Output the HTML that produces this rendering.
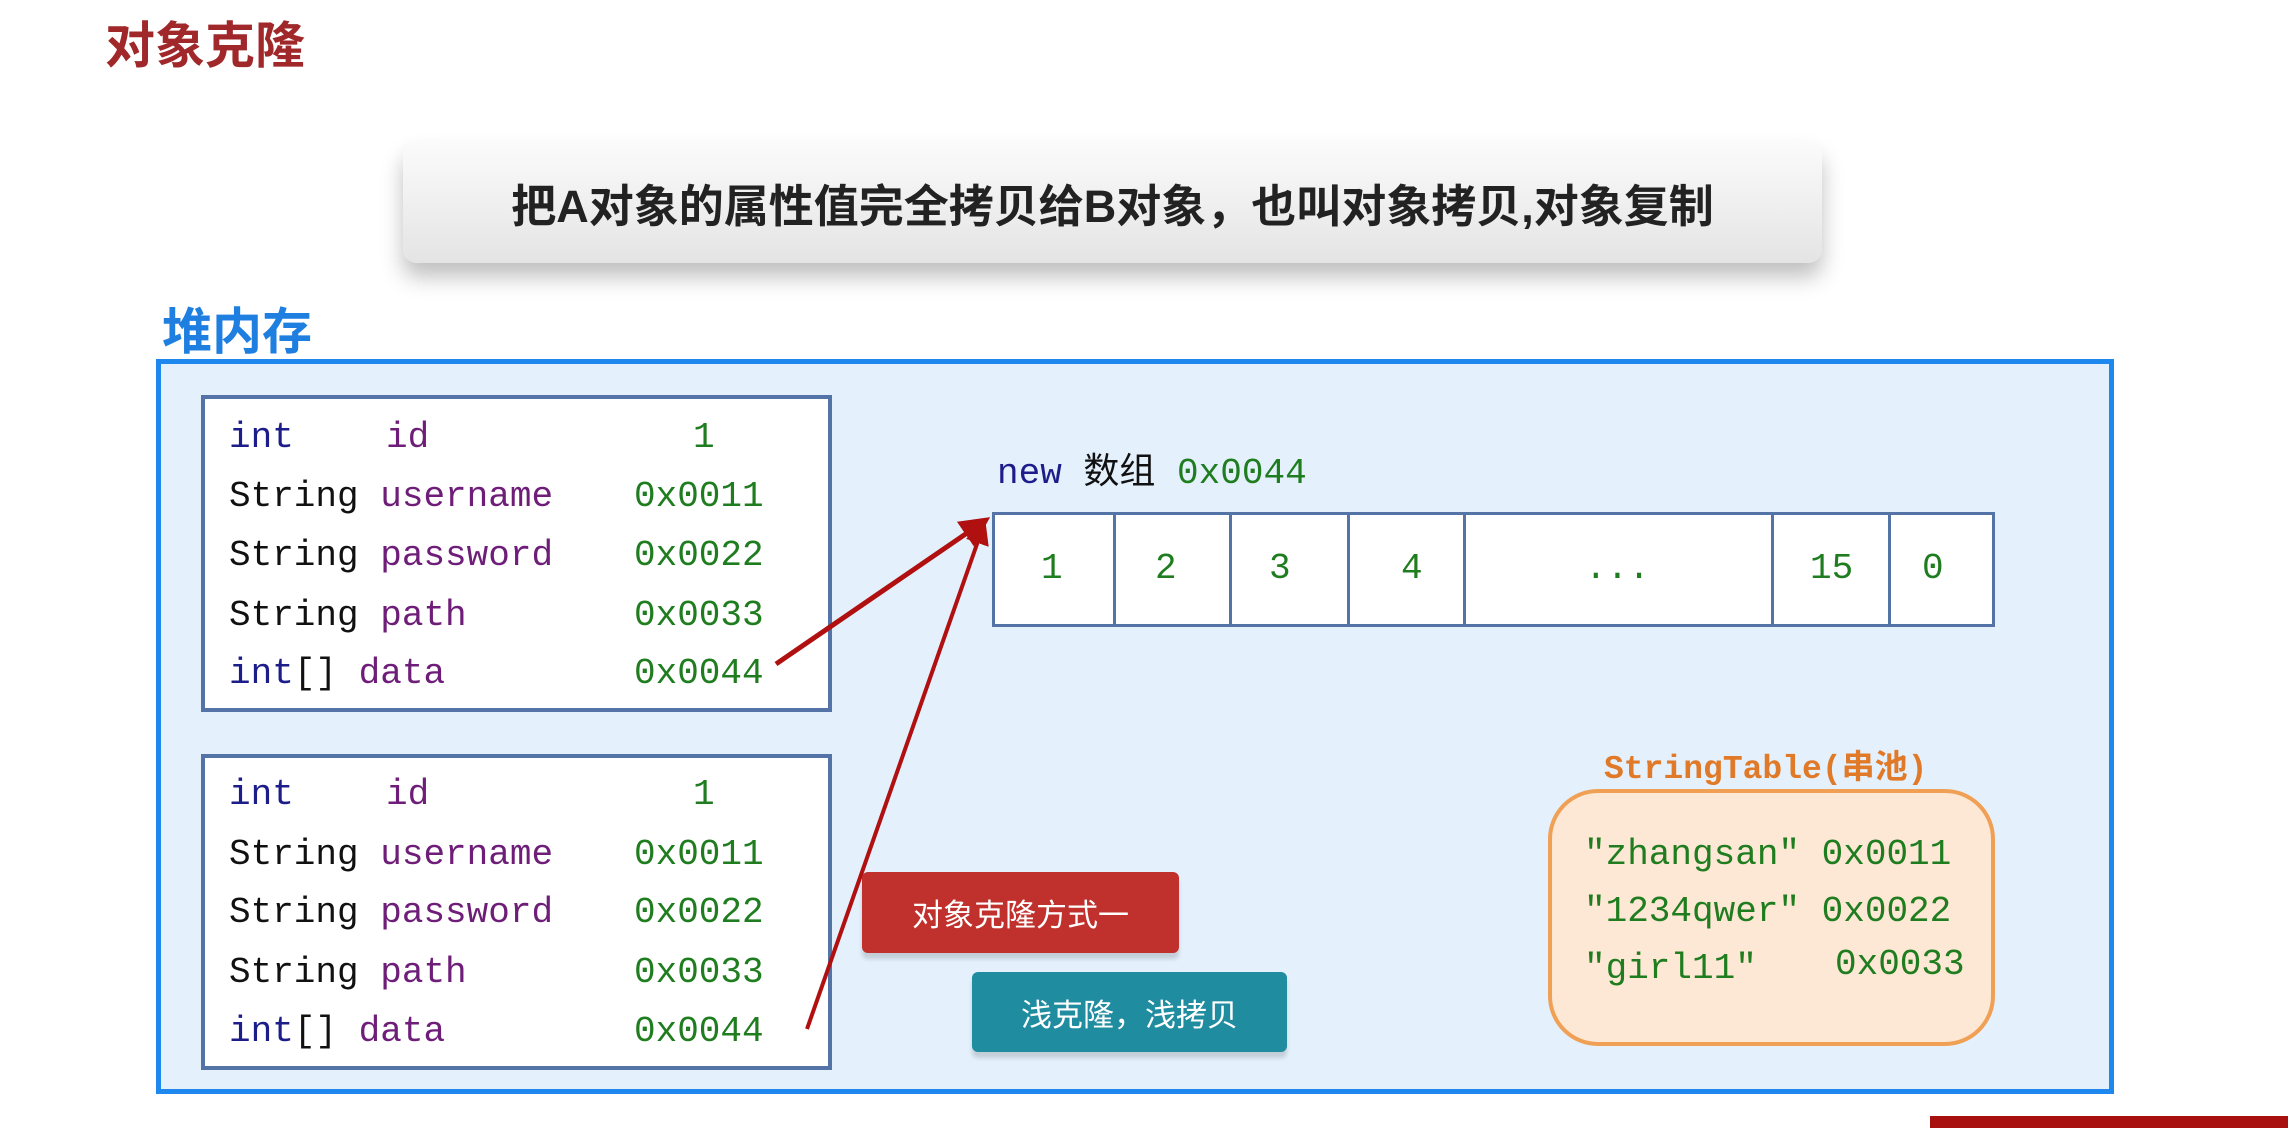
<!DOCTYPE html>
<html><head><meta charset="utf-8">
<style>
body{margin:0;width:2288px;height:1128px;background:#fff;position:relative;overflow:hidden;font-family:"Liberation Sans","Noto Sans CJK SC",sans-serif;}
.a{position:absolute;white-space:nowrap;}
.m{font-family:"Liberation Mono","Noto Sans CJK SC",monospace;font-size:36px;line-height:40px;}
.k{color:#1c1c8a}.n{color:#6e1d78}.g{color:#1f7d1f}.b{color:#111}
.box{position:absolute;border:4px solid #5474a8;background:#fff;box-sizing:border-box;}
.cell{position:absolute;top:512px;height:115px;border:3px solid #5474a8;box-sizing:border-box;background:#fff;}
.btn{position:absolute;color:#fff;font-size:31px;display:flex;align-items:center;justify-content:center;border-radius:6px;box-shadow:0 6px 4px rgba(0,0,0,0.15);}
</style></head><body>
<div class="a" style="left:105px;top:6px;font-size:50px;font-weight:bold;color:#a0282a;">对象克隆</div>
<div class="a" style="left:403px;top:142px;width:1419px;height:121px;border-radius:14px;background:linear-gradient(#fbfbfb,#e4e4e4);box-shadow:0 14px 22px rgba(0,0,0,0.25);display:flex;align-items:center;justify-content:center;font-size:45px;font-weight:bold;color:#222;">把A对象的属性值完全拷贝给B对象，也叫对象拷贝,对象复制</div>
<div class="a" style="left:162px;top:292px;font-size:50px;font-weight:bold;color:#1e7fe0;">堆内存</div>
<div class="a" style="left:156px;top:359px;width:1958px;height:735px;border:5px solid #1e88ee;background:#e4f1fd;box-sizing:border-box;"></div>

<div class="box" style="left:201px;top:395px;width:631px;height:317px;"></div>
<div class="box" style="left:201px;top:754px;width:631px;height:316px;"></div>

<div class="a m" style="left:229px;top:418px;"><span class="k">int</span></div><div class="a m n" style="left:386px;top:418px;">id</div><div class="a m g" style="left:693px;top:418px;">1</div>
<div class="a m b" style="left:229px;top:477px;">String <span class="n">username</span></div><div class="a m g" style="left:634px;top:477px;">0x0011</div>
<div class="a m b" style="left:229px;top:536px;">String <span class="n">password</span></div><div class="a m g" style="left:634px;top:536px;">0x0022</div>
<div class="a m b" style="left:229px;top:596px;">String <span class="n">path</span></div><div class="a m g" style="left:634px;top:596px;">0x0033</div>
<div class="a m" style="left:229px;top:654px;"><span class="k">int</span><span class="b">[]</span> <span class="n">data</span></div><div class="a m g" style="left:634px;top:654px;">0x0044</div>
<div class="a m" style="left:229px;top:775px;"><span class="k">int</span></div><div class="a m n" style="left:386px;top:775px;">id</div><div class="a m g" style="left:693px;top:775px;">1</div>
<div class="a m b" style="left:229px;top:835px;">String <span class="n">username</span></div><div class="a m g" style="left:634px;top:835px;">0x0011</div>
<div class="a m b" style="left:229px;top:893px;">String <span class="n">password</span></div><div class="a m g" style="left:634px;top:893px;">0x0022</div>
<div class="a m b" style="left:229px;top:953px;">String <span class="n">path</span></div><div class="a m g" style="left:634px;top:953px;">0x0033</div>
<div class="a m" style="left:229px;top:1012px;"><span class="k">int</span><span class="b">[]</span> <span class="n">data</span></div><div class="a m g" style="left:634px;top:1012px;">0x0044</div>

<div class="a m" style="left:997px;top:454px;"><span class="k">new</span> <span class="b">数组</span> <span class="g">0x0044</span></div>
<div class="cell" style="left:992px;width:124px;"></div>
<div class="cell" style="left:1113px;width:119px;"></div>
<div class="cell" style="left:1229px;width:121px;"></div>
<div class="cell" style="left:1347px;width:119px;"></div>
<div class="cell" style="left:1463px;width:311px;"></div>
<div class="cell" style="left:1771px;width:120px;"></div>
<div class="cell" style="left:1888px;width:107px;"></div>
<div class="a m g" style="left:1041px;top:549px;">1</div>
<div class="a m g" style="left:1155px;top:549px;">2</div>
<div class="a m g" style="left:1269px;top:549px;">3</div>
<div class="a m g" style="left:1401px;top:549px;">4</div>
<div class="a m g" style="left:1585px;top:549px;">...</div>
<div class="a m g" style="left:1810px;top:549px;">15</div>
<div class="a m g" style="left:1922px;top:549px;">0</div>

<svg class="a" style="left:0;top:0" width="2288" height="1128">
<defs><marker id="ar" markerWidth="6" markerHeight="6" refX="5" refY="3" orient="auto" markerUnits="strokeWidth"><path d="M0,0 L6,3 L0,6 z" fill="#b01010"/></marker></defs>
<line x1="776" y1="664" x2="986" y2="520" stroke="#b01010" stroke-width="5" marker-end="url(#ar)"/>
<line x1="807" y1="1029" x2="984" y2="524" stroke="#b01010" stroke-width="4" marker-end="url(#ar)"/>
</svg>

<div class="a" style="left:1604px;top:740px;font-family:'Liberation Mono','Noto Sans CJK SC',monospace;font-size:33px;font-weight:bold;color:#e07a28;">StringTable(串池)</div>
<div class="a" style="left:1548px;top:789px;width:447px;height:257px;border:4px solid #f0a055;border-radius:50px;background:#fde7d5;box-sizing:border-box;"></div>
<div class="a m g" style="left:1584px;top:835px;">"zhangsan" 0x0011</div>
<div class="a m g" style="left:1584px;top:892px;">"1234qwer" 0x0022</div>
<div class="a m g" style="left:1584px;top:949px;">"girl11"</div><div class="a m g" style="left:1835px;top:945px;">0x0033</div>

<div class="btn" style="left:862px;top:872px;width:317px;height:81px;background:#c0302c;">对象克隆方式一</div>
<div class="btn" style="left:972px;top:972px;width:315px;height:80px;background:#1f8ca0;">浅克隆，浅拷贝</div>
<div class="a" style="left:1930px;top:1116px;width:358px;height:12px;background:#a81010;"></div>
</body></html>
